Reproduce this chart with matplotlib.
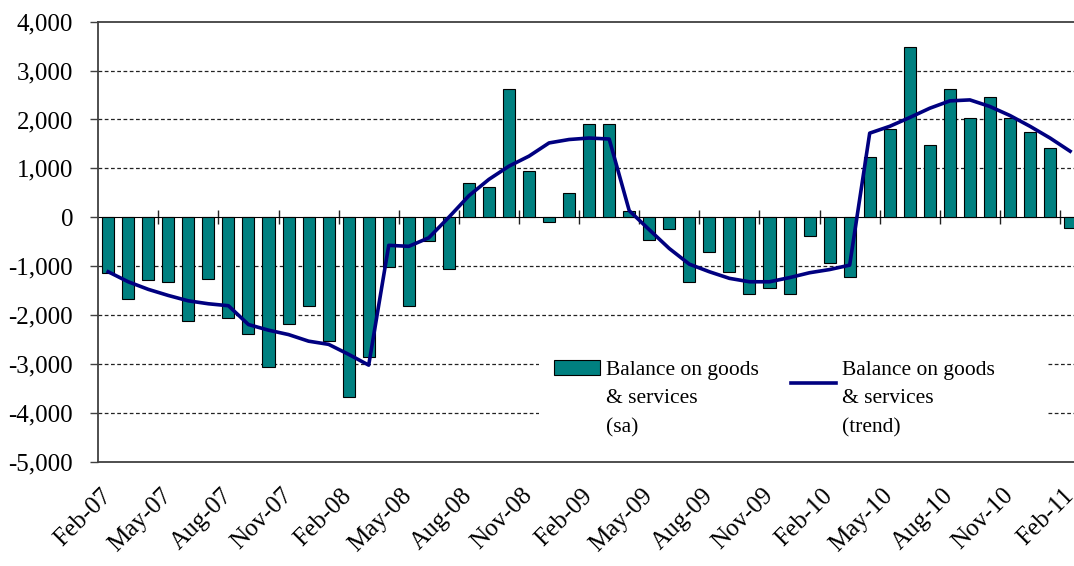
import matplotlib
matplotlib.use("Agg")
import matplotlib.pyplot as plt
from matplotlib.legend_handler import HandlerPatch, HandlerLine2D
from matplotlib.ticker import FuncFormatter
import numpy as np

# monthly data, Feb-07 .. Feb-11
months = ["Feb-07", "Mar-07", "Apr-07", "May-07", "Jun-07", "Jul-07", "Aug-07", "Sep-07",
          "Oct-07", "Nov-07", "Dec-07", "Jan-08", "Feb-08", "Mar-08", "Apr-08", "May-08",
          "Jun-08", "Jul-08", "Aug-08", "Sep-08", "Oct-08", "Nov-08", "Dec-08", "Jan-09",
          "Feb-09", "Mar-09", "Apr-09", "May-09", "Jun-09", "Jul-09", "Aug-09", "Sep-09",
          "Oct-09", "Nov-09", "Dec-09", "Jan-10", "Feb-10", "Mar-10", "Apr-10", "May-10",
          "Jun-10", "Jul-10", "Aug-10", "Sep-10", "Oct-10", "Nov-10", "Dec-10", "Jan-11",
          "Feb-11"]

balance_sa = [-1150, -1675, -1285, -1320, -2115, -1255, -2060, -2380, -3055, -2175,
              -1810, -2535, -3680, -2850, -1025, -1810, -495, -1055, 705, 620,
              2620, 945, -90, 500, 1905, 1905, 120, -475, -235, -1330,
              -705, -1115, -1560, -1440, -1560, -385, -945, -1215, 1235, 1800,
              3480, 1475, 2615, 2035, 2465, 2035, 1735, 1420, -215]

balance_trend = [-1115, -1320, -1475, -1600, -1710, -1770, -1810, -2195, -2310, -2400,
                 -2535, -2600, -2805, -3025, -575, -595, -420, 0, 440, 775,
                 1045, 1250, 1520, 1590, 1620, 1600, 135, -255, -640, -960,
                 -1115, -1250, -1320, -1320, -1235, -1135, -1070, -980, 1720, 1860,
                 2040, 2230, 2380, 2400, 2265, 2080, 1860, 1620, 1350]

label_sa = "Balance on goods\n& services\n(sa)"
label_trend = "Balance on goods\n& services\n(trend)"

plt.rcParams['font.family'] = ['Liberation Serif', 'DejaVu Serif']

SHIFT = 22  # raise legend handles to the first text line (points)


class RaisedPatch(HandlerPatch):
    def create_artists(self, legend, orig_handle, xdescent, ydescent, width, height, fontsize, trans):
        return super().create_artists(legend, orig_handle, xdescent, ydescent - SHIFT,
                                      width, height, fontsize, trans)


class RaisedLine(HandlerLine2D):
    def create_artists(self, legend, orig_handle, xdescent, ydescent, width, height, fontsize, trans):
        return super().create_artists(legend, orig_handle, xdescent, ydescent - SHIFT,
                                      width, height, fontsize, trans)


fig = plt.figure(figsize=(10.74, 5.66), dpi=100)
# the original picture is cropped on the right, so the axes run past the figure edge
ax = fig.add_axes([0.0914, 0.1843, 0.9143, 0.7774])

x = np.arange(len(months))
bars = ax.bar(x, balance_sa, width=0.6, color="#008080", edgecolor="black",
              linewidth=0.8, zorder=3)
line, = ax.plot(x, balance_trend, color="#000080", linewidth=2.6,
                zorder=4, solid_joinstyle="round")
bar_handle = bars.patches[0]

ymin, ymax = -5000, 4000
ax.set_ylim(ymin, ymax)
ax.set_xlim(-0.5, len(months) - 0.5)
ax.set_yticks(np.arange(ymin, ymax + 1, 1000))
ax.yaxis.set_major_formatter(FuncFormatter(lambda v, p: f"{int(v):,}"))
ax.tick_params(axis="y", direction="out", length=6, width=1, color="#404040",
               labelsize=18, pad=12)

ax.set_xticks(x[::3])
ax.set_xticklabels(months[::3], rotation=45, ha="right", va="center",
                   rotation_mode="anchor", fontsize=18)
ax.tick_params(axis="x", length=0, pad=22)

for v in range(ymin + 1000, ymax, 1000):
    if v != 0:
        ax.axhline(v, color="#222222", linewidth=0.9, linestyle=(0, (3, 2)), zorder=1)

for s in ["left", "top", "bottom"]:
    ax.spines[s].set_color("#404040")
    ax.spines[s].set_linewidth(1.3)
ax.spines["right"].set_visible(False)

# category axis drawn through zero
zero_frac = (0 - ymin) / (ymax - ymin)
sec = ax.secondary_xaxis(zero_frac)
sec.set_xticks(np.arange(2.5, len(months), 3))
sec.set_xticklabels([])
sec.tick_params(direction="inout", length=10, width=1, color="#222222")
sec.spines["bottom"].set_color("#222222")
sec.spines["bottom"].set_linewidth(1.2)
sec.spines["bottom"].set_zorder(5)

# pad the widest line of the last entry so the white legend area reaches further right
trend_legend_label = label_trend.replace("\n", " " * 7 + "\n", 1)
leg = ax.legend([bar_handle, line], [label_sa, trend_legend_label], ncol=2,
                loc="upper left", bbox_to_anchor=(0.4383, 0.288), fontsize=15.5,
                frameon=True, fancybox=False, edgecolor="none", facecolor="white",
                framealpha=1, handlelength=2.1, handleheight=0.7, handletextpad=0.28,
                columnspacing=1.5, borderpad=0.7,
                handler_map={bar_handle: RaisedPatch(), line: RaisedLine()})
for t in leg.get_texts():
    t.set_linespacing(1.68)
leg.set_zorder(2)

fig.savefig("out.png", dpi=100)
